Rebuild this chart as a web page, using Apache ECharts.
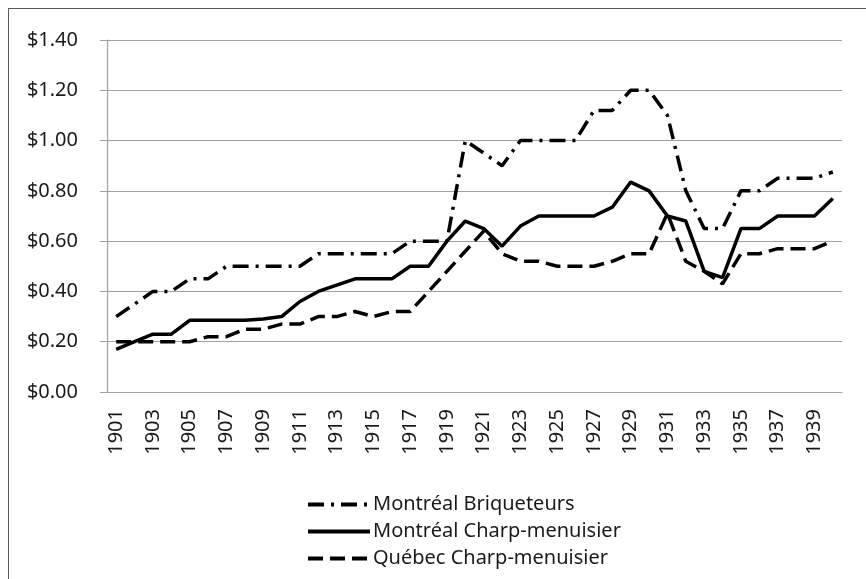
<!DOCTYPE html>
<html>
<head>
<meta charset="utf-8">
<script src="https://cdn.jsdelivr.net/npm/echarts@6/dist/echarts.min.js"></script>
<style>
  html, body { margin: 0; padding: 0; background: #fff; }
  #wrap { position: relative; width: 866px; height: 579px; overflow: hidden; }
  #chart { width: 866px; height: 579px; }
  #frame { position: absolute; left: 8px; top: 8px; width: 900px; height: 600px;
           border: 1.5px solid #5a5a5a; pointer-events: none; }
</style>
</head>
<body>
<div id="wrap">
  <div id="chart"></div>
  <div id="frame"></div>
</div>
<script>
const years = [
  '1901','1902','1903','1904','1905','1906','1907','1908','1909','1910',
  '1911','1912','1913','1914','1915','1916','1917','1918','1919','1920',
  '1921','1922','1923','1924','1925','1926','1927','1928','1929','1930',
  '1931','1932','1933','1934','1935','1936','1937','1938','1939','1940'
];

// Montréal Briqueteurs
const montrealBriq = [
  0.30, 0.35, 0.40, 0.40, 0.45, 0.45, 0.50, 0.50, 0.50, 0.50,
  0.50, 0.55, 0.55, 0.55, 0.55, 0.55, 0.60, 0.60, 0.60, 1.00,
  0.95, 0.90, 1.00, 1.00, 1.00, 1.00, 1.12, 1.12, 1.20, 1.20,
  1.10, 0.80, 0.65, 0.65, 0.80, 0.80, 0.85, 0.85, 0.85, 0.875
];

// Montréal Charp-menuisier
const montrealCharp = [
  0.17, 0.20, 0.23, 0.23, 0.285, 0.285, 0.285, 0.285, 0.29, 0.30,
  0.36, 0.40, 0.425, 0.45, 0.45, 0.45, 0.50, 0.50, 0.60, 0.68,
  0.65, 0.58, 0.66, 0.70, 0.70, 0.70, 0.70, 0.735, 0.835, 0.80,
  0.70, 0.68, 0.48, 0.455, 0.65, 0.65, 0.70, 0.70, 0.70, 0.77
];

// Québec Charp-menuisier
const quebecCharp = [
  0.20, 0.20, 0.20, 0.20, 0.20, 0.22, 0.22, 0.25, 0.25, 0.27,
  0.27, 0.30, 0.30, 0.32, 0.30, 0.32, 0.32, 0.40, 0.48, 0.56,
  0.64, 0.55, 0.52, 0.52, 0.50, 0.50, 0.50, 0.52, 0.55, 0.55,
  0.71, 0.52, 0.48, 0.43, 0.55, 0.55, 0.57, 0.57, 0.57, 0.60
];

const seriesNames = ['Montréal Briqueteurs', 'Montréal Charp-menuisier', 'Québec Charp-menuisier'];
const yMax = 1.4;
const yStep = 0.2;

const font = 'Noto Sans';
const gray = '#a0a0a0';

const chart = echarts.init(document.getElementById('chart'));

const option = {
  backgroundColor: '#fff',
  animation: false,
  grid: { left: 107, right: 24, top: 40, bottom: 187 },
  legend: {
    orient: 'vertical',
    left: 301,
    top: 489,
    itemWidth: 62,
    itemHeight: 14,
    itemGap: 6,
    itemStyle: { opacity: 0 },
    lineStyle: { width: 4 },
    textStyle: { fontFamily: font, fontSize: 20, color: '#1a1a1a', lineHeight: 21, padding: [0, 0, 0, -2] },
    data: seriesNames
  },
  xAxis: {
    type: 'category',
    data: years,
    boundaryGap: true,
    axisLine: { lineStyle: { color: gray, width: 1.2 } },
    axisTick: { interval: 0, length: 7, lineStyle: { color: gray } },
    axisLabel: {
      interval: 1,
      rotate: 90,
      margin: 17,
      fontFamily: font,
      fontSize: 20,
      color: '#1a1a1a'
    },
    splitLine: { show: false }
  },
  yAxis: {
    type: 'value',
    min: 0,
    max: yMax,
    interval: yStep,
    axisLine: { show: true, lineStyle: { color: gray, width: 1.2 } },
    axisTick: { show: true, length: 7, lineStyle: { color: gray } },
    axisLabel: {
      margin: 29,
      fontFamily: font,
      fontSize: 20,
      color: '#1a1a1a',
      formatter: v => '$' + v.toFixed(2)
    },
    splitLine: { lineStyle: { color: gray, width: 1.2 } }
  },
  series: [
    {
      name: seriesNames[0],
      type: 'line',
      data: montrealBriq,
      symbol: 'none',
      color: '#000',
      lineStyle: { color: '#000', width: 3.5, type: [16, 7, 3, 7] }
    },
    {
      name: seriesNames[1],
      type: 'line',
      data: montrealCharp,
      symbol: 'none',
      color: '#000',
      lineStyle: { color: '#000', width: 3.5, type: 'solid' }
    },
    {
      name: seriesNames[2],
      type: 'line',
      data: quebecCharp,
      symbol: 'none',
      color: '#000',
      lineStyle: { color: '#000', width: 3.5, type: [15, 7] }
    }
  ]
};

chart.setOption(option);
</script>
</body>
</html>
